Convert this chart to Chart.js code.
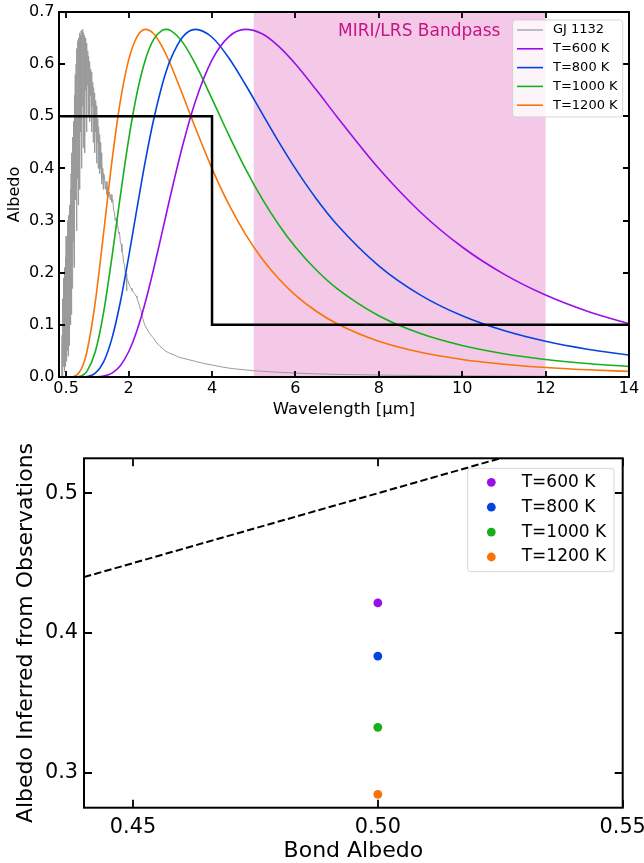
<!DOCTYPE html>
<html>
<head>
<meta charset="utf-8">
<script src="https://cdn.jsdelivr.net/npm/chart.js@4/dist/chart.umd.min.js"></script>
<style>
  html, body { margin: 0; padding: 0; background: #fff; width: 644px; height: 863px; overflow: hidden; }
  canvas { display: block; position: absolute; left: 0; }
  #spectra { top: 0; }
  #albedo { top: 430px; }
</style>
</head>
<body>
<canvas id="spectra" width="644" height="430"></canvas>
<canvas id="albedo" width="644" height="433"></canvas>
<script>
// ---------- Top panel: planet thermal emission vs. wavelength ----------
const waveGrid = [0.4, 0.5, 0.6, 0.7, 0.8, 0.9, 1.0, 1.2, 1.4, 1.6, 1.8, 2.0, 2.2, 2.4, 2.6, 2.8, 2.9, 3.0,
                  3.3, 3.6, 4.0, 4.4, 4.8, 5.2, 5.6, 6.0, 6.5, 7.0, 8.0, 9.0, 10, 11, 12, 13, 14];
const albedoT600 = [0, 0, 0, 0, 0, 0, 0, 0.0002, 0.0017, 0.0074, 0.0216, 0.0484, 0.0893, 0.1434, 0.2072, 0.2765, 0.3117, 0.3467,
                    0.4453, 0.5284, 0.6081, 0.6524, 0.6666, 0.6582, 0.6341, 0.6003, 0.5508, 0.4987, 0.3997, 0.3160, 0.2493, 0.1973, 0.1571, 0.1261, 0.1020];
const albedoT800 = [0, 0, 0, 0, 0, 0.0002, 0.0009, 0.0074, 0.0290, 0.0741, 0.1434, 0.2300, 0.3234, 0.4139, 0.4938, 0.5591, 0.5858, 0.6081,
                    0.6524, 0.6666, 0.6516, 0.6123, 0.5610, 0.5057, 0.4510, 0.3997, 0.3420, 0.2920, 0.2132, 0.1571, 0.1174, 0.0890, 0.0684, 0.0533, 0.0421];
const albedoT1000 = [0, 0, 0, 0.0001, 0.0009, 0.0037, 0.0109, 0.0484, 0.1241, 0.2300, 0.3467, 0.4554, 0.5442, 0.6081, 0.6473, 0.6648, 0.6667, 0.6647,
                     0.6413, 0.6003, 0.5335, 0.4645, 0.3997, 0.3420, 0.2920, 0.2493, 0.2051, 0.1694, 0.1174, 0.0832, 0.0603, 0.0446, 0.0336, 0.0258, 0.0201];
const albedoT1200 = [0, 0, 0.0002, 0.0017, 0.0074, 0.0216, 0.0484, 0.1434, 0.2765, 0.4139, 0.5284, 0.6081, 0.6524, 0.6666, 0.6582, 0.6341, 0.6180, 0.6003,
                     0.5404, 0.4780, 0.3997, 0.3314, 0.2741, 0.2269, 0.1884, 0.1571, 0.1261, 0.1020, 0.0684, 0.0473, 0.0336, 0.0245, 0.0182, 0.0139, 0.0107];
const modelLabels = ['T=600 K', 'T=800 K', 'T=1000 K', 'T=1200 K'];
const modelColors = ['#9a0eea', '#0343df', '#15b01a', '#f97306'];

// GJ 1132 stellar spectrum, scaled: [wavelength (micron), value]
const gjSpectrum = [
  [0.38,0.0],[0.39,0.02],[0.40,0.05],[0.405,0.08],[0.41,0.00],[0.415,0.03],[0.42,0.12],[0.425,0.15],[0.43,0.02],[0.435,0.06],
  [0.44,0.19],[0.445,0.10],[0.45,0.05],[0.455,0.17],[0.46,0.21],[0.465,0.04],[0.47,0.01],[0.475,0.20],[0.48,0.23],[0.485,0.02],
  [0.49,0.07],[0.495,0.15],[0.50,0.27],[0.505,0.22],[0.51,0.03],[0.515,0.08],[0.52,0.26],[0.525,0.18],[0.53,0.11],[0.535,0.05],
  [0.54,0.30],[0.545,0.24],[0.55,0.04],[0.555,0.12],[0.56,0.31],[0.565,0.22],[0.57,0.15],[0.575,0.06],[0.58,0.33],[0.585,0.27],
  [0.59,0.09],[0.595,0.20],[0.60,0.36],[0.605,0.29],[0.61,0.18],[0.615,0.10],[0.62,0.39],[0.625,0.33],[0.63,0.12],[0.635,0.25],
  [0.64,0.43],[0.645,0.17],[0.65,0.22],[0.655,0.38],[0.66,0.46],[0.665,0.30],[0.67,0.26],[0.675,0.42],[0.68,0.49],[0.685,0.33],
  [0.69,0.21],[0.695,0.45],[0.70,0.54],[0.71,0.30],[0.72,0.58],[0.73,0.34],[0.74,0.60],[0.75,0.28],[0.76,0.63],[0.77,0.38],
  [0.78,0.645],[0.79,0.33],[0.80,0.65],[0.81,0.42],[0.82,0.66],[0.83,0.36],[0.84,0.655],[0.85,0.47],[0.86,0.664],[0.87,0.40],
  [0.88,0.66],[0.89,0.52],[0.90,0.667],[0.91,0.44],[0.92,0.66],[0.93,0.50],[0.94,0.655],[0.95,0.43],[0.96,0.65],[0.97,0.55],
  [0.98,0.64],[0.99,0.47],[1.00,0.635],[1.01,0.56],[1.02,0.625],[1.03,0.50],[1.04,0.615],[1.05,0.55],[1.06,0.605],[1.07,0.49],
  [1.08,0.59],[1.09,0.54],[1.10,0.585],[1.11,0.47],[1.12,0.575],[1.13,0.52],[1.14,0.565],[1.15,0.45],[1.16,0.555],[1.17,0.50],
  [1.18,0.545],[1.19,0.43],[1.20,0.53],[1.21,0.47],[1.22,0.52],[1.23,0.41],[1.24,0.505],[1.25,0.45],[1.26,0.495],[1.27,0.40],
  [1.28,0.48],[1.29,0.43],[1.30,0.465],[1.31,0.39],[1.32,0.45],[1.33,0.40],[1.34,0.43],[1.35,0.37],[1.36,0.415],[1.37,0.38],
  [1.38,0.40],[1.39,0.36],[1.40,0.39],[1.42,0.385],[1.44,0.36],[1.46,0.375],[1.48,0.35],[1.50,0.365],[1.52,0.345],[1.54,0.355],
  [1.56,0.34],[1.58,0.35],[1.60,0.335],[1.62,0.34],[1.64,0.32],[1.66,0.315],[1.68,0.30],[1.70,0.305],[1.72,0.29],[1.74,0.29],
  [1.76,0.275],[1.78,0.278],[1.80,0.26],[1.82,0.255],[1.84,0.24],[1.86,0.235],[1.88,0.22],[1.90,0.215],[1.92,0.20],[1.94,0.198],
  [1.95,0.165],[1.96,0.19],[1.98,0.185],[2.00,0.18],[2.02,0.176],[2.04,0.172],[2.06,0.17],[2.08,0.166],[2.10,0.165],[2.12,0.162],
  [2.14,0.16],[2.16,0.158],[2.18,0.155],[2.20,0.152],[2.22,0.146],[2.24,0.142],[2.26,0.136],[2.28,0.13],[2.30,0.126],[2.32,0.118],
  [2.34,0.112],[2.36,0.106],[2.38,0.102],[2.40,0.098],[2.44,0.092],[2.48,0.086],[2.52,0.082],[2.56,0.078],[2.60,0.074],[2.65,0.068],
  [2.70,0.063],[2.75,0.059],[2.80,0.056],[2.85,0.052],[2.90,0.049],[2.95,0.047],[3.00,0.045],[3.1,0.042],[3.2,0.038],[3.3,0.036],
  [3.45,0.033],[3.6,0.030],[3.8,0.026],[4.0,0.023],[4.25,0.019],[4.5,0.016],[4.75,0.014],[5.0,0.012],[5.5,0.0095],[6.0,0.0075],
  [6.5,0.006],[7.0,0.005],[8.0,0.0037],[9.0,0.0028],[10,0.0022],[11,0.0017],[12,0.0014],[13,0.0011],[14,0.0009]
];

// Adopted albedo spectrum (step) and MIRI/LRS coverage
const stepWave = [0.33, 4, 4, 14];
const stepAlbedo = [0.5, 0.5, 0.1, 0.1];
const bandpass = [5, 12];

const waveRange = [0.33, 14];
const waveTicks = [0.5, 2, 4, 6, 8, 10, 12, 14];
const waveTickLabels = ['0.5', '2', '4', '6', '8', '10', '12', '14'];
const albedoTicks = [0, 0.1, 0.2, 0.3, 0.4, 0.5, 0.6, 0.7];
const albedoTickLabels = ['0.0', '0.1', '0.2', '0.3', '0.4', '0.5', '0.6', '0.7'];

// ---------- Bottom panel: inferred vs. Bond albedo ----------
const bondAlbedo = [0.5, 0.5, 0.5, 0.5];
const inferredAlbedo = [0.4215, 0.3835, 0.3325, 0.2845];
const oneToOne = [0.44, 0.55];
const bondRange = [0.44, 0.55];
const inferredRange = [0.275, 0.525];
const bondTicks = [0.45, 0.50, 0.55];
const bondTickLabels = ['0.45', '0.50', '0.55'];
const inferredTicks = [0.3, 0.4, 0.5];
const inferredTickLabels = ['0.3', '0.4', '0.5'];

const FONT = "'DejaVu Sans', 'Liberation Sans', sans-serif";
Chart.defaults.font.family = FONT;
Chart.defaults.color = '#000';

const zip = (xs, ys) => xs.map((x, i) => ({ x, y: ys[i] }));

// Closed frame with inward ticks on all four sides
function framePlugin(id, xTicks, yTicks, tickLen) {
  return {
    id,
    afterDatasetsDraw(chart) {
      const { ctx, chartArea: a, scales: { x, y } } = chart;
      ctx.save();
      ctx.strokeStyle = '#000';
      ctx.lineWidth = 1.8;
      ctx.beginPath();
      xTicks.forEach(v => {
        const px = Math.round(x.getPixelForValue(v));
        ctx.moveTo(px, a.bottom); ctx.lineTo(px, a.bottom - tickLen);
        ctx.moveTo(px, a.top); ctx.lineTo(px, a.top + tickLen);
      });
      yTicks.forEach(v => {
        const py = Math.round(y.getPixelForValue(v));
        ctx.moveTo(a.left, py); ctx.lineTo(a.left + tickLen, py);
        ctx.moveTo(a.right, py); ctx.lineTo(a.right - tickLen, py);
      });
      ctx.stroke();
      ctx.lineWidth = 2;
      ctx.strokeRect(a.left, a.top, a.right - a.left, a.bottom - a.top);
      ctx.restore();
    }
  };
}

function roundRectPath(ctx, x, y, w, h, r) {
  ctx.beginPath();
  ctx.moveTo(x + r, y);
  ctx.lineTo(x + w - r, y); ctx.arcTo(x + w, y, x + w, y + r, r);
  ctx.lineTo(x + w, y + h - r); ctx.arcTo(x + w, y + h, x + w - r, y + h, r);
  ctx.lineTo(x + r, y + h); ctx.arcTo(x, y + h, x, y + h - r, r);
  ctx.lineTo(x, y + r); ctx.arcTo(x, y, x + r, y, r);
  ctx.closePath();
}

// Legend box placed inside the plot, upper right
function legendPlugin(id, L) {
  return {
    id,
    afterDraw(chart) {
      const { ctx, chartArea: a } = chart;
      const x0 = a.right - L.right - L.width;
      const y0 = a.top + L.top;
      ctx.save();
      roundRectPath(ctx, x0, y0, L.width, L.height, 3);
      ctx.fillStyle = 'rgba(255,255,255,0.8)';
      ctx.fill();
      ctx.strokeStyle = 'rgba(204,204,204,0.8)';
      ctx.lineWidth = 1;
      ctx.stroke();
      ctx.font = L.fontSize + 'px ' + FONT;
      ctx.textBaseline = 'middle';
      ctx.textAlign = 'left';
      const entries = chart.data.datasets.filter(d => d.label);
      entries.forEach((d, i) => {
        const cy = y0 + L.row0 + i * L.rowStep;
        if (L.marker) {
          ctx.fillStyle = d.backgroundColor;
          ctx.beginPath();
          ctx.arc(x0 + L.markerX, cy, L.markerR, 0, Math.PI * 2);
          ctx.fill();
        } else {
          ctx.strokeStyle = d.legendColor || d.borderColor;
          ctx.lineWidth = d.legendWidth || d.borderWidth;
          ctx.beginPath();
          ctx.moveTo(x0 + L.lineX0, cy); ctx.lineTo(x0 + L.lineX1, cy);
          ctx.stroke();
        }
        ctx.fillStyle = '#000';
        ctx.fillText(d.label, x0 + L.textX, cy);
      });
      ctx.restore();
    }
  };
}

// Shaded MIRI/LRS wavelength range with its label
const bandPlugin = {
  id: 'bandpass',
  beforeDatasetsDraw(chart) {
    const { ctx, chartArea: a, scales: { x } } = chart;
    const x0 = x.getPixelForValue(bandpass[0]);
    const x1 = x.getPixelForValue(bandpass[1]);
    ctx.save();
    ctx.fillStyle = 'rgba(227,119,194,0.4)';
    ctx.fillRect(x0, a.top, x1 - x0, a.bottom - a.top);
    ctx.restore();
  },
  afterDatasetsDraw(chart) {
    const { ctx, scales: { x, y } } = chart;
    ctx.save();
    ctx.font = '17px ' + FONT;
    ctx.fillStyle = '#c71585';
    ctx.textAlign = 'center';
    ctx.textBaseline = 'middle';
    ctx.fillText('MIRI/LRS Bandpass', x.getPixelForValue(8.97), y.getPixelForValue(0.662));
    ctx.restore();
  }
};

function fixedScale(size, horizontal) {
  return s => {
    if (horizontal) { s.height = size; s.paddingLeft = 0; s.paddingRight = 0; }
    else { s.width = size; s.paddingTop = 0; s.paddingBottom = 0; }
  };
}
const setTicks = vals => s => { s.ticks = vals.map(v => ({ value: v })); };

const modelSeries = [albedoT600, albedoT800, albedoT1000, albedoT1200];

new Chart(document.getElementById('spectra'), {
  type: 'line',
  data: {
    datasets: [
      {
        label: 'GJ 1132', data: gjSpectrum.map(p => ({ x: p[0], y: p[1] })),
        borderColor: '#9a9a9a', borderWidth: 1, legendColor: '#a8a8a8', legendWidth: 1.5,
        pointRadius: 0, tension: 0, order: 9
      },
      ...modelSeries.map((vals, i) => ({
        label: modelLabels[i], data: zip(waveGrid, vals), borderColor: modelColors[i], borderWidth: 1.6,
        pointRadius: 0, cubicInterpolationMode: 'monotone', order: 1 + i
      })),
      {
        data: zip(stepWave, stepAlbedo), borderColor: '#000', borderWidth: 2.5,
        pointRadius: 0, tension: 0, order: 0
      }
    ]
  },
  options: {
    responsive: false, animation: false, events: [],
    layout: { padding: { top: 12, right: 15, left: 0, bottom: 0 } },
    plugins: { legend: { display: false }, tooltip: { enabled: false } },
    scales: {
      x: {
        type: 'linear', min: waveRange[0], max: waveRange[1],
        afterBuildTicks: setTicks(waveTicks), afterFit: fixedScale(53, true),
        grid: { display: false, drawTicks: false }, border: { display: false },
        ticks: { autoSkip: false, maxRotation: 0, padding: 2, font: { size: 16 },
                 callback: (v, i) => waveTickLabels[i] },
        title: { display: true, text: 'Wavelength [μm]', font: { size: 16.5, lineHeight: 1 },
                 padding: { top: 0, bottom: 12 } }
      },
      y: {
        type: 'linear', min: 0, max: 0.7,
        afterBuildTicks: setTicks(albedoTicks), afterFit: fixedScale(59, false),
        grid: { display: false, drawTicks: false }, border: { display: false },
        ticks: { autoSkip: false, padding: 4.5, font: { size: 16 },
                 callback: (v, i) => albedoTickLabels[i] },
        title: { display: true, text: 'Albedo', font: { size: 16, lineHeight: 1 },
                 padding: { top: 6.5, bottom: 0 } }
      }
    }
  },
  plugins: [
    bandPlugin,
    framePlugin('frameTop', waveTicks, albedoTicks, 6),
    legendPlugin('legendTop', { right: 6.3, top: 8, width: 110, height: 97, fontSize: 13,
                                lineX0: 4.3, lineX1: 30.3, textX: 40.3, row0: 10, rowStep: 18.8 })
  ]
});

new Chart(document.getElementById('albedo'), {
  type: 'scatter',
  data: {
    datasets: [
      ...inferredAlbedo.map((v, i) => ({
        label: modelLabels[i], data: [{ x: bondAlbedo[i], y: v }],
        backgroundColor: modelColors[i], borderWidth: 0, pointRadius: 4.4, order: 0
      })),
      {
        type: 'line', data: zip(oneToOne, oneToOne), borderColor: '#000', borderWidth: 2,
        borderDash: [7.4, 3.2], pointRadius: 0, tension: 0, order: 5
      }
    ]
  },
  options: {
    responsive: false, animation: false, events: [],
    layout: { padding: { top: 28.3, right: 21.3, left: 0, bottom: 0 } },
    plugins: { legend: { display: false }, tooltip: { enabled: false } },
    scales: {
      x: {
        type: 'linear', min: bondRange[0], max: bondRange[1],
        afterBuildTicks: setTicks(bondTicks), afterFit: fixedScale(55.3, true),
        grid: { display: false, drawTicks: false }, border: { display: false },
        ticks: { autoSkip: false, maxRotation: 0, padding: 7.5, font: { size: 20.8 },
                 callback: (v, i) => bondTickLabels[i] },
        title: { display: true, text: 'Bond Albedo', font: { size: 22, lineHeight: 1 },
                 padding: { top: 0, bottom: 1 } }
      },
      y: {
        type: 'linear', min: inferredRange[0], max: inferredRange[1],
        afterBuildTicks: setTicks(inferredTicks), afterFit: fixedScale(84, false),
        grid: { display: false, drawTicks: false }, border: { display: false },
        ticks: { autoSkip: false, padding: 6, font: { size: 20.8 },
                 callback: (v, i) => inferredTickLabels[i] },
        title: { display: true, text: 'Albedo Inferred from Observations', font: { size: 22, lineHeight: 1 },
                 padding: { top: 15, bottom: 0 } }
      }
    }
  },
  plugins: [
    framePlugin('frameBottom', bondTicks, inferredTicks, 8),
    legendPlugin('legendBottom', { right: 8.7, top: 10, width: 146.3, height: 103.4, fontSize: 17,
                                   marker: true, markerX: 23.6, markerR: 4.4, textX: 54, row0: 14, rowStep: 24.9 })
  ]
});
</script>
</body>
</html>
